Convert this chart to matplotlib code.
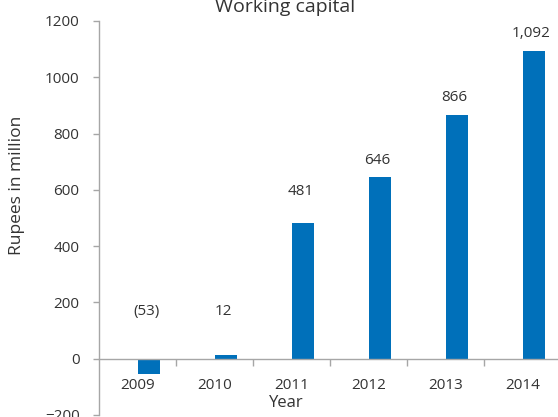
#!/usr/bin/env python3
"""Working capital bar chart (Rupees in million, 2009-2014)."""

import matplotlib
matplotlib.use("Agg")
import matplotlib.pyplot as plt
from matplotlib.ticker import FixedLocator, NullFormatter

# Data
years = ["2009", "2010", "2011", "2012", "2013", "2014"]
working_capital = [-53, 12, 481, 646, 866, 1092]
value_labels = ["(53)", "12", "481", "646", "866", "1,092"]

# Label heights as placed in the original chart (data units)
label_y = [167, 167, 593, 706, 927, 1154]

BLUE = "#0070BA"
TEXT = "#333333"
AXIS = "#A6A6A6"

plt.rcParams["font.family"] = ["Open Sans", "DejaVu Sans"]
plt.rcParams["font.size"] = 11
plt.rcParams["text.color"] = TEXT

fig = plt.figure(figsize=(5.58, 4.17), dpi=100)
ax = fig.add_axes([99 / 558, 2 / 417, 462 / 558, 394 / 417])

x = list(range(len(years)))
bar_w = 0.286
ax.bar(x, working_capital, width=bar_w, align="edge", color=BLUE, zorder=2)

for xi, lab, ly in zip(x, value_labels, label_y):
    ax.text(xi + bar_w / 2 - 0.03, ly, lab, ha="center", va="center",
            fontsize=11, color=TEXT)

ax.set_xlim(-0.5, len(years) - 0.5)
ax.set_ylim(-200, 1200)
ax.set_yticks(range(-200, 1201, 200))

# x axis sits on zero, labels at centres, tick marks between categories
ax.spines["bottom"].set_position(("data", 0))
ax.set_xticks(x)
ax.set_xticklabels(years)
ax.xaxis.set_minor_locator(FixedLocator([i + 0.5 for i in x[:-1]]))
ax.xaxis.set_minor_formatter(NullFormatter())
ax.tick_params(axis="x", which="major", length=0, pad=14, labelsize=11,
               labelcolor=TEXT)
ax.tick_params(axis="x", which="minor", length=5, width=1, color=AXIS,
               direction="out")
ax.tick_params(axis="y", length=4, width=1, color=AXIS, pad=10,
               labelsize=11, labelcolor=TEXT)

for side in ["top", "right"]:
    ax.spines[side].set_visible(False)
for side in ["left", "bottom"]:
    ax.spines[side].set_color(AXIS)
    ax.spines[side].set_linewidth(1)

ax.set_xlabel("Year", fontsize=12, color=TEXT)
ax.xaxis.set_label_coords((286 - 99) / 462, (415 - 395) / 394)
ax.set_ylabel("Rupees in million", fontsize=12.5, color=TEXT)
ax.yaxis.set_label_coords((25 - 99) / 462, (415 - 185) / 394)

fig.text(285 / 558, 1 - 12 / 417, "Working capital", ha="center",
         va="baseline", fontsize=14, color=TEXT)

fig.savefig("out.png", dpi=100)
